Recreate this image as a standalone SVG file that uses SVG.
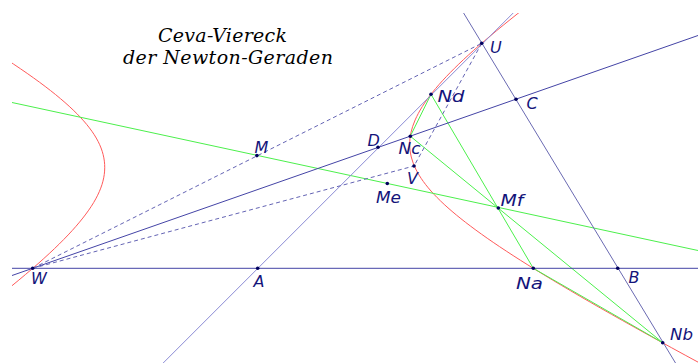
<svg xmlns="http://www.w3.org/2000/svg" width="698" height="363" viewBox="0 0 698 363">
<defs>
<clipPath id="frame"><rect x="12" y="13" width="686" height="350"/></clipPath>
<style>
.bg{fill:#ffffff}
.dark{stroke:#4444a6;stroke-width:1;fill:none}
.mid{stroke:#6a6ab2;stroke-width:1;fill:none}
.lite{stroke:#8a8ad4;stroke-width:1;fill:none}
.dash{stroke:#6464b4;stroke-width:1;fill:none;stroke-dasharray:4 3}
.green{stroke:#4cf04c;stroke-width:1;fill:none}
.red{stroke:#ff5a5a;stroke-width:1;fill:none}
.pt{fill:#00005e}
.lbl{font-family:"DejaVu Sans","Liberation Sans",sans-serif;font-style:italic;font-size:16px;fill:#14147a}
.title{font-family:"DejaVu Serif","Liberation Serif",serif;font-style:italic;font-size:19px;fill:#000000}
</style>
</defs>
<rect class="bg" x="0" y="0" width="698" height="363"/>
<g id="title">
<text class="title" x="158" y="41.5" textLength="129">Ceva-Viereck</text>
<text class="title" x="123" y="63.5" textLength="210">der Newton-Geraden</text>
</g>
<g id="conic" clip-path="url(#frame)">
<path class="red" d="M-26.57,38.59 C21.30,67.86 52.56,90.25 73.18,110.02 C93.78,129.79 103.65,146.85 104.65,164.46 C105.65,182.07 97.78,200.15 79.54,222.12 C61.30,244.09 32.78,269.88 -11.47,304.37"/>
<path class="red" d="M575.80,-30.48 C524.51,7.25 488.95,35.79 463.48,59.64 C438.01,83.48 422.70,102.58 415.15,119.94 C407.59,137.29 407.80,152.86 415.80,169.11 C423.82,185.35 439.60,202.23 465.67,222.41 C491.73,242.58 527.99,266.00 580.19,296.36 C632.39,326.72 700.38,363.95 794.91,413.93"/>
</g>
<g id="connectors" clip-path="url(#frame)">
<line class="green" x1="12" y1="102.5" x2="698" y2="250.5"/>
<line class="green" x1="431" y1="94.3" x2="410.3" y2="136.2"/>
<line class="green" x1="431" y1="94.3" x2="533.3" y2="268.3"/>
<line class="green" x1="410.3" y1="136.2" x2="662.7" y2="342.7"/>
<line class="green" x1="533.3" y1="268.3" x2="662.7" y2="342.7"/>
<line class="dark" x1="12" y1="268.3" x2="698" y2="268.3"/>
<line class="dark" x1="12" y1="275.5" x2="698" y2="35.5"/>
<line class="mid" x1="463.6" y1="13" x2="675.5" y2="363"/>
<line class="lite" x1="163.2" y1="363" x2="513.2" y2="13"/>
<line class="dash" x1="32.7" y1="268.3" x2="481.7" y2="43.3"/>
<line class="dash" x1="32.7" y1="268.3" x2="414" y2="166"/>
<line class="dash" x1="481.7" y1="43.3" x2="414" y2="166"/>
</g>
<g id="W"><circle class="pt" cx="32.7" cy="268.3" r="1.8"/><text class="lbl" x="31" y="284">W</text></g>
<g id="A"><circle class="pt" cx="257.7" cy="268.3" r="1.8"/><text class="lbl" x="253.5" y="287">A</text></g>
<g id="Na"><circle class="pt" cx="533.3" cy="268.3" r="1.8"/><text class="lbl" x="516" y="289" textLength="27" lengthAdjust="spacingAndGlyphs">Na</text></g>
<g id="B"><circle class="pt" cx="617.7" cy="268.3" r="1.8"/><text class="lbl" x="628.5" y="283">B</text></g>
<g id="Nb"><circle class="pt" cx="662.7" cy="342.7" r="1.8"/><text class="lbl" x="670" y="340" textLength="23" lengthAdjust="spacingAndGlyphs">Nb</text></g>
<g id="U"><circle class="pt" cx="481.7" cy="43.3" r="1.8"/><text class="lbl" x="490" y="53">U</text></g>
<g id="C"><circle class="pt" cx="516" cy="99.3" r="1.8"/><text class="lbl" x="526.5" y="109">C</text></g>
<g id="Nd"><circle class="pt" cx="431" cy="94.3" r="1.8"/><text class="lbl" x="437.5" y="101.5" textLength="27" lengthAdjust="spacingAndGlyphs">Nd</text></g>
<g id="D"><circle class="pt" cx="378" cy="147.3" r="1.8"/><text class="lbl" x="367.5" y="146">D</text></g>
<g id="Nc"><circle class="pt" cx="410.3" cy="136.2" r="1.8"/><text class="lbl" x="398.5" y="154" textLength="22" lengthAdjust="spacingAndGlyphs">Nc</text></g>
<g id="V"><circle class="pt" cx="414" cy="166" r="1.8"/><text class="lbl" x="407" y="184">V</text></g>
<g id="M"><circle class="pt" cx="256.9" cy="155.6" r="1.8"/><text class="lbl" x="254.5" y="153">M</text></g>
<g id="Me"><circle class="pt" cx="387.3" cy="183.5" r="1.8"/><text class="lbl" x="376" y="203" textLength="25" lengthAdjust="spacingAndGlyphs">Me</text></g>
<g id="Mf"><circle class="pt" cx="498.3" cy="208" r="1.8"/><text class="lbl" x="500.5" y="206" textLength="23" lengthAdjust="spacingAndGlyphs">Mf</text></g>
</svg>
